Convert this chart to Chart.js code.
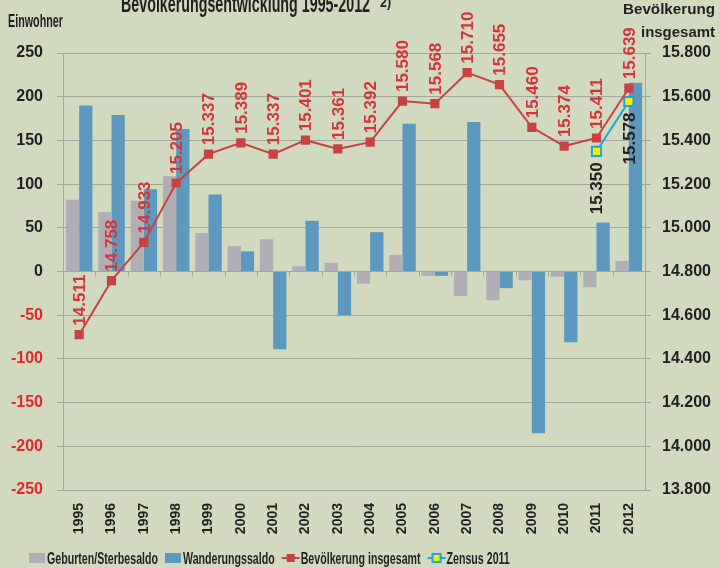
<!DOCTYPE html>
<html>
<head>
<meta charset="utf-8">
<script src="https://cdn.jsdelivr.net/npm/chart.js@4/dist/chart.umd.min.js"></script>
<style>
  html, body { margin: 0; padding: 0; background: #d1d9be; }
  #wrap { width: 719px; height: 568px; position: relative; }
</style>
</head>
<body>
<div id="wrap"><canvas id="chart" width="719" height="568"></canvas></div>
<script>
// Data (Einwohner, Bevölkerung insgesamt)
const years = ['1995', '1996', '1997', '1998', '1999', '2000', '2001', '2002', '2003',
  '2004', '2005', '2006', '2007', '2008', '2009', '2010', '2011', '2012'];
const geburtenSaldo = [82, 68, 81, 109, 44, 29, 37, 6, 10, -14, 19, -5, -28, -33, -10, -6, -18, 12];
const wanderungsSaldo = [190, 179, 94, 163, 88, 23, -89, 58, -50, 45, 169, -5, 171, -19, -185, -81, 56, 216];
const bevoelkerung = [14511, 14758, 14933, 15205, 15337, 15389, 15337, 15401, 15361,
  15392, 15580, 15568, 15710, 15655, 15460, 15374, 15411, 15639];
const zensus = [null, null, null, null, null, null, null, null, null,
  null, null, null, null, null, null, null, 15350, 15578];
const leftTicks = [-250, -200, -150, -100, -50, 0, 50, 100, 150, 200, 250];
const rightTicks = [13800, 14000, 14200, 14400, 14600, 14800, 15000, 15200, 15400, 15600, 15800];
const legendItems = [
  { text: 'Geburten/Sterbesaldo', kind: 'gray' },
  { text: 'Wanderungssaldo', kind: 'blue' },
  { text: 'Bevölkerung insgesamt', kind: 'red' },
  { text: 'Zensus 2011', kind: 'zensus' },
];

// Colours
const colors = {
  background: '#d1d9be',
  grid: '#a3a89f',
  gray: '#b1afb5',
  blue: '#5d98bf',
  red: '#c94242',
  redText: '#d3353b',
  negTick: '#e3262d',
  cyan: '#1ea6df',
  yellow: '#f6ec00',
  text: '#231f20',
};

const sans = "'Liberation Sans', Arial, sans-serif";

function fmt(v) {
  return String(v).replace(/\B(?=(\d{3})+(?!\d))/g, '.');
}

// no condensed face installed, so squeeze the text horizontally
function squeezed(ctx, text, x, y, width, align) {
  const w = ctx.measureText(text).width;
  ctx.save();
  ctx.textAlign = 'left';
  const left = align === 'right' ? x - width : x;
  ctx.translate(left, y);
  ctx.scale(width / w, 1);
  ctx.fillText(text, 0, 0);
  ctx.restore();
}

function drawSymbol(ctx, kind, x, y) {
  // x = left edge, y = vertical centre
  if (kind === 'gray' || kind === 'blue') {
    ctx.fillStyle = colors[kind];
    ctx.fillRect(x, y - 5, 16, 10);
  } else if (kind === 'red') {
    ctx.fillStyle = colors.red;
    ctx.fillRect(x, y - 1, 18, 2);
    ctx.fillRect(x + 5, y - 4, 8, 8);
  } else {
    ctx.fillStyle = colors.cyan;
    ctx.fillRect(x, y - 1, 18, 2);
    ctx.fillRect(x + 4, y - 5, 10, 10);
    ctx.fillStyle = colors.yellow;
    ctx.fillRect(x + 6, y - 3, 6, 6);
  }
}

// Background, title, captions and legend
const decorPlugin = {
  id: 'decor',
  beforeDraw(chart) {
    const ctx = chart.ctx;
    ctx.save();
    ctx.fillStyle = colors.background;
    ctx.fillRect(0, 0, chart.width, chart.height);
    ctx.restore();
  },
  afterDraw(chart) {
    const ctx = chart.ctx;
    ctx.save();
    ctx.fillStyle = colors.text;
    ctx.textBaseline = 'alphabetic';

    ctx.font = 'bold 24px ' + sans;
    squeezed(ctx, 'Bevölkerungsentwicklung 1995-2012', 121, 12, 249);
    ctx.font = 'bold 14px ' + sans;
    squeezed(ctx, '2)', 380, 7, 11);

    ctx.font = 'bold 18px ' + sans;
    squeezed(ctx, 'Einwohner', 8, 27, 55);
    ctx.font = 'bold 15px ' + sans;
    squeezed(ctx, 'Bevölkerung', 715, 14, 92, 'right');
    squeezed(ctx, 'insgesamt', 715, 37, 74, 'right');

    // legend
    ctx.font = 'bold 17px ' + sans;
    const ly = 558;
    const s = 111 / ctx.measureText(legendItems[0].text).width;
    let lx = 29;
    legendItems.forEach((it) => {
      drawSymbol(ctx, it.kind, lx, ly);
      lx += it.kind === 'gray' || it.kind === 'blue' ? 18 : 19;
      const w = ctx.measureText(it.text).width * s;
      ctx.fillStyle = colors.text;
      squeezed(ctx, it.text, lx, ly + 6, w);
      lx += w + 7;
    });

    // small tick marks on the zero line
    const x = chart.scales.x;
    const y0 = chart.scales.y.getPixelForValue(0);
    ctx.strokeStyle = colors.grid;
    ctx.lineWidth = 1;
    ctx.beginPath();
    for (let i = 1; i < years.length; i++) {
      const px = Math.round((x.getPixelForValue(i - 1) + x.getPixelForValue(i)) / 2) + 0.5;
      ctx.moveTo(px, y0);
      ctx.lineTo(px, y0 + 5);
    }
    ctx.stroke();
    ctx.restore();
  },
};

// Rotated value labels for the population lines
const valueLabels = {
  id: 'valueLabels',
  afterDatasetsDraw(chart) {
    const ctx = chart.ctx;
    ctx.save();
    ctx.font = 'bold 17px ' + sans;
    ctx.textBaseline = 'middle';
    chart.data.datasets.forEach((ds, i) => {
      if (!ds.labelSide) return;
      const meta = chart.getDatasetMeta(i);
      meta.data.forEach((pt, j) => {
        const v = ds.data[j];
        if (v === null || v === undefined) return;
        ctx.save();
        ctx.translate(pt.x, pt.y);
        ctx.rotate(-Math.PI / 2);
        if (ds.labelSide === 'above') {
          ctx.textAlign = 'left';
          ctx.fillStyle = colors.redText;
          ctx.fillText(fmt(v), 9, 1);
        } else {
          ctx.textAlign = 'right';
          ctx.fillStyle = colors.text;
          ctx.fillText(fmt(v), -11, 1);
        }
        ctx.restore();
      });
    });
    ctx.restore();
  },
};

new Chart(document.getElementById('chart'), {
  type: 'bar',
  data: {
    labels: years,
    datasets: [
      {
        type: 'line',
        label: 'Bevölkerung insgesamt',
        data: bevoelkerung,
        yAxisID: 'y2',
        borderColor: colors.red,
        backgroundColor: colors.red,
        borderWidth: 2,
        pointStyle: 'rect',
        pointRadius: 6.5,
        pointBorderWidth: 0,
        order: 0,
        labelSide: 'above',
      },
      {
        type: 'line',
        label: 'Zensus 2011',
        data: zensus,
        yAxisID: 'y2',
        borderColor: colors.cyan,
        backgroundColor: colors.yellow,
        pointBorderColor: colors.cyan,
        borderWidth: 2,
        pointStyle: 'rect',
        pointRadius: 6.5,
        pointBorderWidth: 2,
        order: 0,
        labelSide: 'below',
      },
      {
        label: 'Geburten/Sterbesaldo',
        data: geburtenSaldo,
        backgroundColor: colors.gray,
        yAxisID: 'y',
        barPercentage: 1,
        categoryPercentage: 0.82,
        order: 1,
      },
      {
        label: 'Wanderungssaldo',
        data: wanderungsSaldo,
        backgroundColor: colors.blue,
        yAxisID: 'y',
        barPercentage: 1,
        categoryPercentage: 0.82,
        order: 1,
      },
    ],
  },
  options: {
    responsive: false,
    animation: false,
    layout: { padding: { top: 53, left: 0, right: 0, bottom: 0 } },
    plugins: {
      tooltip: { enabled: false },
      title: { display: false },
      legend: { display: false },
    },
    scales: {
      x: {
        grid: { display: false },
        border: { display: true, color: colors.grid },
        ticks: {
          color: colors.text,
          minRotation: 90,
          maxRotation: 90,
          padding: 5,
          font: { family: sans, size: 14, weight: 'bold' },
        },
        afterFit: (scale) => { scale.height = 78; },
      },
      y: {
        position: 'left',
        min: -250,
        max: 250,
        afterBuildTicks: (scale) => { scale.ticks = leftTicks.map((v) => ({ value: v })); },
        grid: { color: colors.grid, tickLength: 6 },
        border: { color: colors.grid },
        ticks: {
          padding: 14,
          color: (c) => (c.tick.value < 0 ? colors.negTick : colors.text),
          font: { family: sans, size: 16, weight: 'bold' },
        },
        afterFit: (scale) => { scale.width = 63; },
      },
      y2: {
        position: 'right',
        min: 13800,
        max: 15800,
        afterBuildTicks: (scale) => { scale.ticks = rightTicks.map((v) => ({ value: v })); },
        grid: { drawOnChartArea: false, color: colors.grid, tickLength: 6 },
        border: { color: colors.grid },
        ticks: {
          padding: 11,
          color: colors.text,
          callback: (v) => fmt(v),
          font: { family: sans, size: 16, weight: 'bold' },
        },
        afterFit: (scale) => { scale.width = 74; },
      },
    },
  },
  plugins: [decorPlugin, valueLabels],
});
</script>
</body>
</html>
